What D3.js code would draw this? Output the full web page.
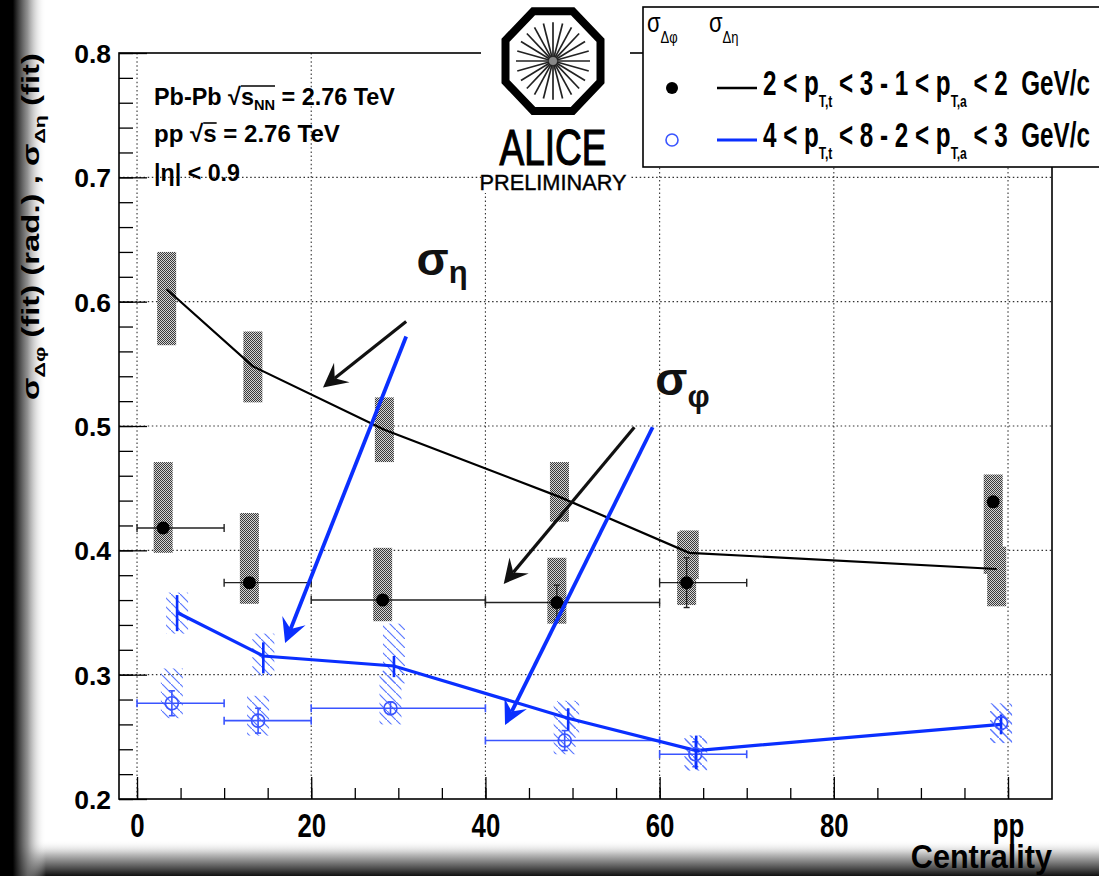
<!DOCTYPE html>
<html>
<head>
<meta charset="utf-8">
<script src="https://cdn.jsdelivr.net/npm/d3@7"></script>
<style>
body { margin: 0; background: #fff; }
svg { display: block; }
text { font-family: "Liberation Sans", Arial, sans-serif; white-space: pre; }
</style>
</head>
<body>
<div id="chart"></div>
<script>
// ---- data ----
// centrality bins of the Pb-Pb points, the last one is pp (no bin)
var centBins = [[0, 10], [10, 20], [20, 40], [40, 60], [60, 70], null];

// 2 < pT,t < 3 - 1 < pT,a < 2 GeV/c
var phiLoX = [3.0, 12.9, 28.2, 48.2, 63.1, 98.3];
var phiLoY = [0.418, 0.374, 0.360, 0.358, 0.374, 0.439];
var phiLoStat = [0.004, 0.004, 0.004, 0.014, 0.020, 0.004];
var phiLoSys = [[0.398, 0.471], [0.357, 0.430], [0.343, 0.402], [0.341, 0.394], [0.356, 0.415], [0.381, 0.461]];

var etaLoX = [3.4, 13.3, 28.4, 48.5, 63.4, 98.7];
var etaLoY = [0.610, 0.548, 0.497, 0.443, 0.398, 0.385];
var etaLoSys = [[0.565, 0.640], [0.519, 0.576], [0.471, 0.523], [0.423, 0.471], [0.377, 0.416], [0.355, 0.403]];

// 4 < pT,t < 8 - 2 < pT,a < 3 GeV/c
var phiHiX = [4.0, 13.9, 29.1, 49.1, 64.1, 99.2];
var phiHiY = [0.277, 0.263, 0.273, 0.247, 0.236, 0.261];
var phiHiStat = [0.010, 0.010, 0.005, 0.008, 0.010, 0.005];
var phiHiSys = [[0.265, 0.305], [0.251, 0.283], [0.260, 0.303], [0.236, 0.277], [0.223, 0.251], [0.245, 0.277]];

var etaHiX = [4.6, 14.5, 29.5, 49.5, 64.2, 99.2];
var etaHiY = [0.350, 0.315, 0.307, 0.265, 0.239, 0.260];
var etaHiStat = [[0.335, 0.364], [0.301, 0.326], [0.298, 0.315], [0.255, 0.273], [0.224, 0.251], [0.252, 0.268]];
var etaHiSys = [[0.333, 0.366], [0.299, 0.333], [0.293, 0.341], [0.252, 0.279], [0.223, 0.251], [0.245, 0.275]];

// axes
var xTicks = [0, 20, 40, 60, 80, 100];
var xTickLabels = ["0", "20", "40", "60", "80", "pp"];
var yTicks = [0.2, 0.3, 0.4, 0.5, 0.6, 0.7, 0.8];

// hand drawn annotations (data units)
var arrowStart = [[30.9, 0.584], [30.9, 0.572], [57.1, 0.499], [59.2, 0.499]];
var arrowEnd = [[21.35, 0.531], [17.0, 0.3255], [42.1, 0.373], [42.25, 0.2595]];
var arrowColor = ["#111", "#0a2fff", "#111", "#0a2fff"];
var sigmaLabelPos = [[32.1, 0.6215], [59.5, 0.525]];
var sigmaLabelSub = ["\u03b7", "\u03c6"];

/* ---- set up ---- */
var W = 1099, H = 876;
var svg = d3.select("#chart").append("svg").attr("width", W).attr("height", H);
var defs = svg.append("defs");

var x = d3.scaleLinear().domain([-2.07, 105.05]).range([119, 1052]);
var y = d3.scaleLinear().domain([0.2, 0.8]).range([799, 53]);

var blue = "#0a2fff", lightBlue = "#3a55ff";

// checker fill for the grey syst boxes
var chk = defs.append("pattern").attr("id", "checker").attr("patternUnits", "userSpaceOnUse")
    .attr("width", 2).attr("height", 2);
chk.append("rect").attr("width", 2).attr("height", 2).attr("fill", "#d4d4d4");
chk.append("rect").attr("width", 1).attr("height", 1).attr("fill", "#3a3a3a");
chk.append("rect").attr("x", 1).attr("y", 1).attr("width", 1).attr("height", 1).attr("fill", "#3a3a3a");

// hatch fill for the blue syst boxes
var hat = defs.append("pattern").attr("id", "hatch").attr("patternUnits", "userSpaceOnUse")
    .attr("width", 9).attr("height", 9);
hat.append("path").attr("d", "M-1,-1 L10,10").attr("stroke", "#5b78ff").attr("stroke-width", 1.2);

// vignette at left and bottom
var lg = defs.append("linearGradient").attr("id", "leftFade").attr("x1", 0).attr("x2", 1).attr("y1", 0).attr("y2", 0);
lg.append("stop").attr("offset", "0").attr("stop-color", "#000").attr("stop-opacity", 1);
lg.append("stop").attr("offset", "0.28").attr("stop-color", "#000").attr("stop-opacity", 1);
lg.append("stop").attr("offset", "0.6").attr("stop-color", "#777").attr("stop-opacity", 0.8);
lg.append("stop").attr("offset", "1").attr("stop-color", "#fff").attr("stop-opacity", 0);
var bg = defs.append("linearGradient").attr("id", "bottomFade").attr("x1", 0).attr("x2", 0).attr("y1", 0).attr("y2", 1);
bg.append("stop").attr("offset", "0").attr("stop-color", "#fff").attr("stop-opacity", 0);
bg.append("stop").attr("offset", "0.4").attr("stop-color", "#bbb").attr("stop-opacity", 1);
bg.append("stop").attr("offset", "1").attr("stop-color", "#111").attr("stop-opacity", 1);

svg.append("rect").attr("width", W).attr("height", H).attr("fill", "#fff");
svg.append("rect").attr("x", 0).attr("y", 840).attr("width", W).attr("height", 36).attr("fill", "url(#bottomFade)");
svg.append("rect").attr("x", 0).attr("y", 0).attr("width", 46).attr("height", H).attr("fill", "url(#leftFade)");

// put a text at x,y and stretch it to a wanted width
function place(sel, px, py, rot, targetW, sy) {
  var w = sel.node().getBBox().width;
  var sx = targetW ? targetW / w : 1;
  sel.attr("transform", "translate(" + px + "," + py + ") rotate(" + rot + ") scale(" + sx + "," + sy + ")");
  return sel;
}
function sub(t, s, size, dy) {
  t.append("tspan").text(s).attr("font-size", size).attr("dy", dy);
  return t;
}
function back(t, s, dy) {
  t.append("tspan").text(s).attr("dy", -dy);
  return t;
}
// bar over the characters i0..i1 of a text, drawn in the text's own frame
function overbar(t, i0, i1, yy) {
  var n = t.node();
  var g = d3.select(n.parentNode).append("line")
      .attr("x1", n.getStartPositionOfChar(i0).x).attr("x2", n.getEndPositionOfChar(i1).x)
      .attr("y1", yy).attr("y2", yy).attr("stroke", "#000").attr("stroke-width", 1.6)
      .attr("transform", t.attr("transform"));
  return g;
}

/* ---- grid ---- */
var grid = svg.append("g").attr("stroke", "#333").attr("stroke-width", 1.1).attr("stroke-dasharray", "1.5,2.6");
grid.selectAll(".gx").data(xTicks).enter().append("line")
    .attr("x1", function(d) { return x(d); }).attr("x2", function(d) { return x(d); })
    .attr("y1", y(0.8)).attr("y2", y(0.2));
grid.selectAll(".gy").data(yTicks.slice(1, -1)).enter().append("line")
    .attr("x1", x.range()[0]).attr("x2", x.range()[1])
    .attr("y1", function(d) { return y(d); }).attr("y2", function(d) { return y(d); });

/* ---- axes ---- */
var yMinor = d3.range(0, 31).map(function(i) { return 0.2 + i * 0.02; });
var xMinor = d3.range(0, 101, 5);

var gyMin = svg.append("g").attr("transform", "translate(119,0)")
    .call(d3.axisLeft(y).tickValues(yMinor).tickSize(-14).tickFormat(""));
var gy = svg.append("g").attr("transform", "translate(119,0)")
    .call(d3.axisLeft(y).tickValues(yTicks).tickSize(-28).tickPadding(8).tickFormat(d3.format(".1f")));
var gxMin = svg.append("g").attr("transform", "translate(0,799)")
    .call(d3.axisBottom(x).tickValues(xMinor).tickSize(-11).tickFormat(""));
var gx = svg.append("g").attr("transform", "translate(0,799)")
    .call(d3.axisBottom(x).tickValues(xTicks).tickSize(-22).tickFormat(function(d, i) { return xTickLabels[i]; }));

[gyMin, gy, gxMin, gx].forEach(function(g) {
  g.select(".domain").remove();
  g.selectAll(".tick line").attr("stroke", "#000").attr("stroke-width", 1.3);
});
gy.selectAll("text").attr("font-size", 26.5).attr("font-weight", "bold").attr("fill", "#000")
    .attr("font-family", "Liberation Sans, Arial, sans-serif").attr("dy", "0.36em");
gx.selectAll("text").attr("font-size", 28).attr("font-weight", "bold").attr("fill", "#000")
    .attr("font-family", "Liberation Sans, Arial, sans-serif")
    .attr("y", null).attr("dy", null).attr("transform", "translate(0,38) scale(0.92,1.2)");

svg.append("rect").attr("x", 119).attr("y", 53).attr("width", 933).attr("height", 746)
    .attr("fill", "none").attr("stroke", "#000").attr("stroke-width", 1.6);

/* ---- systematic boxes ---- */
function boxes(xs, sys, w, fill) {
  svg.append("g").selectAll("rect").data(xs).enter().append("rect")
      .attr("x", function(d) { return x(d) - w / 2; })
      .attr("width", w)
      .attr("y", function(d, i) { return y(sys[i][1]); })
      .attr("height", function(d, i) { return y(sys[i][0]) - y(sys[i][1]); })
      .attr("fill", fill);
}
boxes(etaLoX, etaLoSys, 19, "url(#checker)");
boxes(phiLoX, phiLoSys, 19, "url(#checker)");
boxes(phiHiX, phiHiSys, 22, "url(#hatch)");
boxes(etaHiX, etaHiSys, 22, "url(#hatch)");

/* ---- error bars ---- */
function xErr(ys, color, width) {
  var g = svg.append("g").attr("stroke", color).attr("stroke-width", width);
  centBins.forEach(function(b, i) {
    if (!b) return;
    g.append("line").attr("x1", x(b[0])).attr("x2", x(b[1])).attr("y1", y(ys[i])).attr("y2", y(ys[i]));
    g.append("line").attr("x1", x(b[0])).attr("x2", x(b[0])).attr("y1", y(ys[i]) - 4).attr("y2", y(ys[i]) + 4);
    g.append("line").attr("x1", x(b[1])).attr("x2", x(b[1])).attr("y1", y(ys[i]) - 4).attr("y2", y(ys[i]) + 4);
  });
}
function yErr(xs, lo, hi, color, width, cap) {
  var g = svg.append("g").attr("stroke", color).attr("stroke-width", width);
  xs.forEach(function(d, i) {
    g.append("line").attr("x1", x(d)).attr("x2", x(d)).attr("y1", y(lo[i])).attr("y2", y(hi[i]));
    if (cap) {
      g.append("line").attr("x1", x(d) - cap).attr("x2", x(d) + cap).attr("y1", y(lo[i])).attr("y2", y(lo[i]));
      g.append("line").attr("x1", x(d) - cap).attr("x2", x(d) + cap).attr("y1", y(hi[i])).attr("y2", y(hi[i]));
    }
  });
}
xErr(phiLoY, "#222", 1.4);
xErr(phiHiY, lightBlue, 1.6);
yErr(phiLoX, phiLoY.map(function(v, i) { return v - phiLoStat[i]; }), phiLoY.map(function(v, i) { return v + phiLoStat[i]; }), "#222", 1.4, 3);
yErr(phiHiX, phiHiY.map(function(v, i) { return v - phiHiStat[i]; }), phiHiY.map(function(v, i) { return v + phiHiStat[i]; }), lightBlue, 1.6, 3);
yErr(etaHiX, etaHiStat.map(function(d) { return d[0]; }), etaHiStat.map(function(d) { return d[1]; }), blue, 2.6, 0);

/* ---- lines ---- */
var line = d3.line().x(function(d) { return x(d[0]); }).y(function(d) { return y(d[1]); });
svg.append("path").datum(d3.zip(etaLoX, etaLoY)).attr("d", line)
    .attr("fill", "none").attr("stroke", "#000").attr("stroke-width", 2.2);
svg.append("path").datum(d3.zip(etaHiX, etaHiY)).attr("d", line)
    .attr("fill", "none").attr("stroke", blue).attr("stroke-width", 3.2);

/* ---- markers ---- */
svg.append("g").selectAll("circle").data(phiLoX).enter().append("circle")
    .attr("cx", function(d) { return x(d); }).attr("cy", function(d, i) { return y(phiLoY[i]); })
    .attr("r", 6.5).attr("fill", "#000");
svg.append("g").selectAll("circle").data(phiHiX).enter().append("circle")
    .attr("cx", function(d) { return x(d); }).attr("cy", function(d, i) { return y(phiHiY[i]); })
    .attr("r", 6.5).attr("fill", "none").attr("stroke", lightBlue).attr("stroke-width", 1.6);

/* ---- arrows and sigma labels ---- */
arrowStart.forEach(function(s, i) {
  var x1 = x(s[0]), y1 = y(s[1]), x2 = x(arrowEnd[i][0]), y2 = y(arrowEnd[i][1]);
  var a = Math.atan2(y2 - y1, x2 - x1), ux = Math.cos(a), uy = Math.sin(a);
  var L = 24, hw = 12.5, notch = 15;
  var w = arrowColor[i] === blue ? 3.8 : 3.2;
  svg.append("line").attr("x1", x1).attr("y1", y1)
      .attr("x2", x2 - ux * notch).attr("y2", y2 - uy * notch)
      .attr("stroke", arrowColor[i]).attr("stroke-width", w);
  var bx = x2 - ux * L, by = y2 - uy * L;
  var pts = [[x2, y2], [bx - uy * hw, by + ux * hw], [x2 - ux * notch, y2 - uy * notch], [bx + uy * hw, by - ux * hw]];
  svg.append("path").attr("d", "M" + pts.join("L") + "Z").attr("fill", arrowColor[i]);
});

sigmaLabelPos.forEach(function(p, i) {
  var t = svg.append("text").attr("x", x(p[0])).attr("y", y(p[1]))
      .attr("font-family", "Liberation Serif, Times New Roman, serif").attr("font-weight", "bold")
      .attr("font-size", 47).attr("fill", "#111").text("\u03c3");
  t.append("tspan").attr("font-size", 31).attr("dy", i === 0 ? 8 : 12).text(sigmaLabelSub[i]);
});

/* ---- texts in the frame ---- */
var t1 = svg.append("text").attr("font-size", 24).attr("font-weight", "bold").text("Pb-Pb \u221as");
sub(t1, "NN", 15, 5);
back(t1, " = 2.76 TeV", 5);
place(t1, 154, 105, 0, 241, 1);
overbar(t1, 7, 9, -19);

var t2 = svg.append("text").attr("font-size", 24).attr("font-weight", "bold").text("pp \u221as = 2.76 TeV");
place(t2, 154, 142, 0, 186, 1);
overbar(t2, 4, 4, -19);

var t3 = svg.append("text").attr("font-size", 24).attr("font-weight", "bold").text("|\u03b7| < 0.9");
place(t3, 154, 181, 0, 86, 1);

/* ---- axis titles ---- */
var yt = svg.append("text").attr("font-size", 23).attr("font-weight", "bold").attr("text-anchor", "start").text("\u03c3");
sub(yt, "\u0394\u03c6", 15, 6);
back(yt, " (fit) (rad.) , \u03c3", 6);
sub(yt, "\u0394\u03b7", 15, 6);
back(yt, " (fit)", 6);
place(yt, 39, 400, -90, 347, 1);

var xt = svg.append("text").attr("font-size", 31).attr("font-weight", "bold").attr("text-anchor", "end").text("Centrality");
place(xt, 1052, 868, 0, 142, 1.05);

/* ---- ALICE logo ---- */
var logo = svg.append("g");
logo.append("rect").attr("x", 481).attr("y", 0).attr("width", 149).attr("height", 193).attr("fill", "#fff");
var lc = [553, 61];
var oct = d3.range(8).map(function(k) {
  var a = (22.5 + 45 * k) * Math.PI / 180, r = 47.5 / Math.cos(Math.PI / 8);
  return [lc[0] + r * Math.cos(a), lc[1] + 1.05 * r * Math.sin(a)];
});
logo.append("path").attr("d", "M" + oct.join("L") + "Z").attr("fill", "none")
    .attr("stroke", "#000").attr("stroke-width", 8).attr("stroke-linejoin", "miter");
d3.range(24).forEach(function(k) {
  var a = k * 15 * Math.PI / 180;
  logo.append("line")
      .attr("x1", lc[0] + 3 * Math.cos(a)).attr("y1", lc[1] + 3 * Math.sin(a))
      .attr("x2", lc[0] + 37 * Math.cos(a)).attr("y2", lc[1] + 1.05 * 37 * Math.sin(a))
      .attr("stroke", "#222").attr("stroke-width", 1.7);
});
logo.append("circle").attr("cx", lc[0]).attr("cy", lc[1]).attr("r", 4).attr("fill", "#888");
var al = logo.append("text").attr("font-family", "DejaVu Sans Mono, monospace")
    .attr("font-size", 50).attr("text-anchor", "middle").attr("stroke", "#000").attr("stroke-width", 1.2)
    .text("ALICE");
place(al, 553, 165, 0, 107, 1);
var pr = logo.append("text").attr("font-family", "DejaVu Sans Mono, monospace")
    .attr("font-size", 23).attr("text-anchor", "middle").attr("stroke", "#000").attr("stroke-width", 0.4)
    .text("PRELIMINARY");
place(pr, 553, 190, 0, 147, 1);

/* ---- legend ---- */
var leg = svg.append("g");
leg.append("rect").attr("x", 643).attr("y", 7).attr("width", 480).attr("height", 160)
    .attr("fill", "#fff").attr("stroke", "#000").attr("stroke-width", 1.6);
[["\u0394\u03c6", 647], ["\u0394\u03b7", 709]].forEach(function(h) {
  var t = leg.append("text").attr("font-family", "Liberation Serif, serif").attr("font-size", 22).text("\u03c3");
  sub(t, h[0], 13, 9);
  place(t, h[1], 32, 0, null, 1.25);
});
var legRows = [
  {y: 88, txt: ["2 < p", "T,t", " < 3 - 1 < p", "T,a", " < 2  GeV/c"], color: "#000", filled: true, lw: 2.4},
  {y: 140, txt: ["4 < p", "T,t", " < 8 - 2 < p", "T,a", " < 3  GeV/c"], color: blue, filled: false, lw: 3}
];
legRows.forEach(function(r) {
  leg.append("circle").attr("cx", 672).attr("cy", r.y).attr("r", 6)
      .attr("fill", r.filled ? "#000" : "none").attr("stroke", r.filled ? "none" : lightBlue).attr("stroke-width", 1.6);
  leg.append("line").attr("x1", 717).attr("x2", 757).attr("y1", r.y).attr("y2", r.y)
      .attr("stroke", r.color).attr("stroke-width", r.lw);
  var t = leg.append("text").attr("font-size", 24).attr("font-weight", "bold").text(r.txt[0]);
  sub(t, r.txt[1], 12, 8);
  back(t, r.txt[2], 8);
  sub(t, r.txt[3], 12, 8);
  back(t, r.txt[4], 8);
  place(t, 763, r.y + 7, 0, 327, 1.45);
});
</script>
</body>
</html>
